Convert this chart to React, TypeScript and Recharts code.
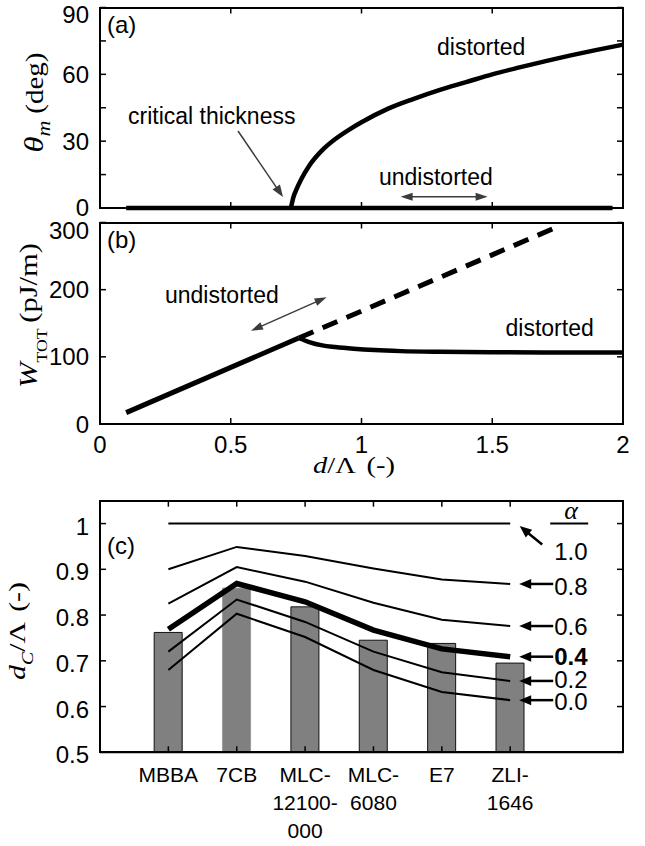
import React from 'react';
import { ComposedChart, Line, Bar, Cell, XAxis, YAxis } from 'recharts';

const SANS = '"Liberation Sans", Arial, Helvetica, sans-serif';
const SERIF = '"Liberation Serif", "Times New Roman", Times, serif';

// (a) tilt angle theta_m versus d/Lambda
const undistortedAX = [0.1, 1.96];
const undistortedAY = [0, 0];
const distortedAX = [0.73, 0.74, 0.75, 0.77, 0.8, 0.85, 0.9, 0.95, 1.0, 1.1, 1.2, 1.3, 1.4, 1.5, 1.6, 1.7, 1.8, 1.9, 2.0];
const distortedAY = [0, 5, 8, 13, 19, 26, 31, 35, 38.5, 44.5, 49, 53, 56.5, 60, 63, 65.8, 68.5, 71, 73.3];

// (b) total energy W_TOT versus d/Lambda
const undistortedBX = [0.1, 0.76];
const undistortedBY = [17, 128];
const undistortedDashX = [0.76, 1.74];
const undistortedDashY = [128, 292];
const distortedBX = [0.76, 0.8, 0.85, 0.9, 0.97, 1.05, 1.15, 1.3, 1.5, 1.75, 2.0];
const distortedBY = [128, 122, 117, 114.5, 112, 110, 108.5, 107.5, 107, 106.5, 106.5];

// (c) critical thickness per material
const materials = ['MBBA', '7CB', 'MLC-12100-000', 'MLC-6080', 'E7', 'ZLI-1646'];
const measured = [0.762, 0.859, 0.818, 0.745, 0.738, 0.695];
const alpha10 = [1, 1, 1, 1, 1, 1];
const alpha08 = [0.9, 0.949, 0.929, 0.902, 0.878, 0.868];
const alpha06 = [0.825, 0.905, 0.873, 0.827, 0.79, 0.776];
const alpha04 = [0.769, 0.869, 0.829, 0.767, 0.726, 0.709];
const alpha02 = [0.72, 0.834, 0.785, 0.72, 0.675, 0.656];
const alpha00 = [0.68, 0.803, 0.752, 0.68, 0.632, 0.614];

const ticksA = [0, 15, 30, 45, 60, 75, 90];
const ticksB = [0, 100, 200, 300];
const ticksX = [0, 0.5, 1, 1.5, 2];
const ticksC = [0.5, 0.6, 0.7, 0.8, 0.9, 1];
const ticksCat = [1, 2, 3, 4, 5, 6];

const domX = [0, 2];
const domA = [0, 90];
const domB = [0, 300];
const domCatX = [0, 7.65];
const domC = [0.5, 1.05];

const pts = (xs: number[], ys: number[]) => xs.map((x, i) => ({ x, y: ys[i] }));

const rowsC = materials.map((m, i) => ({
  x: i + 1,
  name: m,
  bar: measured[i],
  a10: alpha10[i],
  a08: alpha08[i],
  a06: alpha06[i],
  a04: alpha04[i],
  a02: alpha02[i],
  a00: alpha00[i],
}));

// plot boxes (the same numbers drive the chart margins below)
const W = 645;
const PLOT_L = 100;
const PLOT_R = 623;
const boxA = { top: 7.5, bottom: 208 };
const boxB = { top: 222.5, bottom: 424 };
const boxC = { top: 500.7, bottom: 752.3 };

const axisLine = { stroke: '#000', strokeWidth: 2 };
const tickFont = { fontSize: 24, fill: '#000', fontFamily: SANS };

// inward MATLAB-style ticks on all four sides of a plot box
function Ticks({ top, bottom, xd, yd, xt, yt }: any) {
  const sx = (v: number) => PLOT_L + ((v - xd[0]) / (xd[1] - xd[0])) * (PLOT_R - PLOT_L);
  const sy = (v: number) => bottom - ((v - yd[0]) / (yd[1] - yd[0])) * (bottom - top);
  const t = 6;
  return (
    <g>
      {xt.map((v: number) => (
        <g key={`x${v}`}>
          <line x1={sx(v)} y1={bottom} x2={sx(v)} y2={bottom - t} stroke="#000" strokeWidth={1.5} />
          <line x1={sx(v)} y1={top} x2={sx(v)} y2={top + t} stroke="#000" strokeWidth={1.5} />
        </g>
      ))}
      {yt.map((v: number) => (
        <g key={`y${v}`}>
          <line x1={PLOT_L} y1={sy(v)} x2={PLOT_L + t} y2={sy(v)} stroke="#000" strokeWidth={1.5} />
          <line x1={PLOT_R} y1={sy(v)} x2={PLOT_R - t} y2={sy(v)} stroke="#000" strokeWidth={1.5} />
        </g>
      ))}
    </g>
  );
}

// the closed box itself, as a bordered div on top of everything
function BoxDiv({ top, bottom }: { top: number; bottom: number }) {
  return (
    <div
      style={{
        position: 'absolute',
        left: PLOT_L - 1,
        top: top - 1,
        width: PLOT_R - PLOT_L + 2,
        height: bottom - top + 2,
        boxSizing: 'border-box',
        border: '2px solid #000',
        pointerEvents: 'none',
      }}
    />
  );
}

function arrowHead(x: number, y: number, a: number, len: number, half: number) {
  const bx = x - len * Math.cos(a);
  const by = y - len * Math.sin(a);
  const px = -Math.sin(a) * half;
  const py = Math.cos(a) * half;
  return `${x},${y} ${bx + px},${by + py} ${bx - px},${by - py}`;
}

function Arrow({ x1, y1, x2, y2, both = false, color = '#3c3c3c', w = 1.5, len = 11, half = 4 }: any) {
  const a = Math.atan2(y2 - y1, x2 - x1);
  const sx = both ? x1 + len * 0.8 * Math.cos(a) : x1;
  const sy = both ? y1 + len * 0.8 * Math.sin(a) : y1;
  const ex = x2 - len * 0.8 * Math.cos(a);
  const ey = y2 - len * 0.8 * Math.sin(a);
  return (
    <g>
      <line x1={sx} y1={sy} x2={ex} y2={ey} stroke={color} strokeWidth={w} />
      <polygon points={arrowHead(x2, y2, a, len, half)} fill={color} />
      {both && <polygon points={arrowHead(x1, y1, a + Math.PI, len, half)} fill={color} />}
    </g>
  );
}

// y tick label; the top-most label sits a little lower, as in the figure
const yTick = (fmt: (v: number) => string, top: number, topShift: number, shift = 0) => (props: any) => {
  const { x, y, payload } = props;
  const v = payload.value;
  const label = fmt(v);
  if (!label) return <g />;
  const dy = (v === top ? topShift : shift) + 8.5;
  return (
    <text x={x} y={y + dy} textAnchor="end" fontSize={24} fontFamily={SANS} fill="#000">
      {label}
    </text>
  );
};

const CategoryTick = (props: any) => {
  const { x, y, payload } = props;
  const name = materials[Math.round(payload.value) - 1] || '';
  const lines = name.split(/(?<=-)/);
  return (
    <text x={x} y={y} textAnchor="middle" fontSize={21} fontFamily={SANS} fill="#000">
      {lines.map((l: string, i: number) => (
        <tspan key={i} x={x} y={y + 23.5 + i * 28}>
          {l}
        </tspan>
      ))}
    </text>
  );
};

const alphaLabel = (text: string, dy: number, bold = false, diagonal = false) => (p: any) => {
  if (p.index !== materials.length - 1) return null;
  const x = Number(p.x);
  const y = Number(p.y);
  return (
    <g>
      {diagonal ? (
        <>
          <Arrow x1={x + 32} y1={y + 21} x2={x + 9.5} y2={y + 2.5} color="#000" w={2.5} len={12} half={5} />
          <text x={x + 61} y={y - 5} textAnchor="middle" fontSize={26} fontStyle="italic" fontFamily={SERIF} fill="#000">
            α
          </text>
          <line x1={x + 40} y1={y} x2={x + 78} y2={y} stroke="#000" strokeWidth={2} />
          <text x={x + 44} y={y + dy} fontSize={24} fontFamily={SANS} fill="#000">
            {text}
          </text>
        </>
      ) : (
        <>
          <Arrow x1={x + 43} y1={y} x2={x + 9} y2={y} color="#000" w={2.5} len={12} half={5} />
          <text x={x + 44} y={y + dy} fontSize={24} fontWeight={bold ? 'bold' : 'normal'} fontFamily={SANS} fill="#000">
            {text}
          </text>
        </>
      )}
    </g>
  );
};

const fmtA = (v: number) => (v % 30 === 0 ? String(v) : '');
const fmtB = (v: number) => String(v);
const fmtC = (v: number) => (v === 1 ? '1' : v.toFixed(1));

export default function App() {
  return (
    <div style={{ position: 'absolute', left: 0, top: 0, width: W, height: 846, background: '#fff', overflow: 'hidden' }}>
      {/* (a) */}
      <div style={{ position: 'absolute', left: 0, top: 0 }}>
        <ComposedChart width={W} height={230} margin={{ top: boxA.top, right: W - PLOT_R, bottom: 230 - boxA.bottom, left: 0 }}>
          <XAxis xAxisId="x" type="number" dataKey="x" domain={domX} ticks={ticksX} interval={0} height={0.01}
            tick={false} tickLine={false} axisLine={axisLine} />
          <YAxis yAxisId="y" type="number" domain={domA} ticks={ticksA} interval={0} width={PLOT_L}
            tickLine={false} tickMargin={5} tick={yTick(fmtA, 90, 7)} axisLine={axisLine} />
          <Line xAxisId="x" yAxisId="y" data={pts(undistortedAX, undistortedAY)} dataKey="y" type="linear"
            stroke="#000" strokeWidth={4.5} dot={false} isAnimationActive={false} />
          <Line xAxisId="x" yAxisId="y" data={pts(distortedAX, distortedAY)} dataKey="y" type="monotone"
            stroke="#000" strokeWidth={4.5} dot={false} isAnimationActive={false} />
        </ComposedChart>
      </div>

      {/* (b) */}
      <div style={{ position: 'absolute', left: 0, top: 200 }}>
        <ComposedChart width={W} height={290} margin={{ top: boxB.top - 200, right: W - PLOT_R, bottom: 490 - boxB.bottom - 30, left: 0 }}>
          <XAxis xAxisId="x" type="number" dataKey="x" domain={domX} ticks={ticksX} interval={0} height={30}
            tick={tickFont} tickLine={false} tickMargin={6} axisLine={axisLine}
            tickFormatter={(v: number) => String(v)} />
          <YAxis yAxisId="y" type="number" domain={domB} ticks={ticksB} interval={0} width={PLOT_L}
            tickLine={false} tickMargin={5} tick={yTick(fmtB, 300, 8)} axisLine={axisLine} />
          <Line xAxisId="x" yAxisId="y" data={pts(undistortedDashX, undistortedDashY)} dataKey="y" type="linear"
            stroke="#000" strokeWidth={5} strokeDasharray="16 10" dot={false} isAnimationActive={false} />
          <Line xAxisId="x" yAxisId="y" data={pts(undistortedBX, undistortedBY)} dataKey="y" type="linear"
            stroke="#000" strokeWidth={5} dot={false} isAnimationActive={false} />
          <Line xAxisId="x" yAxisId="y" data={pts(distortedBX, distortedBY)} dataKey="y" type="monotone"
            stroke="#000" strokeWidth={4.5} dot={false} isAnimationActive={false} />
        </ComposedChart>
      </div>

      {/* (c) */}
      <div style={{ position: 'absolute', left: 0, top: 480 }}>
        <ComposedChart width={W} height={366} data={rowsC}
          margin={{ top: boxC.top - 480, right: W - PLOT_R, bottom: 846 - boxC.bottom - 90, left: 0 }}>
          <XAxis xAxisId="x" type="number" dataKey="x" domain={domCatX} ticks={ticksCat} interval={0}
            height={90} tick={<CategoryTick />} tickLine={false} tickMargin={0} axisLine={axisLine} />
          <YAxis yAxisId="y" type="number" domain={domC} ticks={ticksC} interval={0} width={PLOT_L}
            tickLine={false} tickMargin={5} tick={yTick(fmtC, 1, 2.5, 2.5)} axisLine={axisLine} />
          <Bar xAxisId="x" yAxisId="y" dataKey="bar" barSize={28} fill="#808080" stroke="#000" strokeWidth={1}
            isAnimationActive={false}>
            {rowsC.map((r, i) => (
              <Cell key={r.name} stroke={i === 1 ? '#9a9a9a' : '#111'} />
            ))}
          </Bar>
          <Line xAxisId="x" yAxisId="y" dataKey="a10" type="linear" stroke="#000" strokeWidth={2} dot={false}
            isAnimationActive={false} label={alphaLabel('1.0', 36.5, false, true)} />
          <Line xAxisId="x" yAxisId="y" dataKey="a08" type="linear" stroke="#000" strokeWidth={2} dot={false}
            isAnimationActive={false} label={alphaLabel('0.8', 11)} />
          <Line xAxisId="x" yAxisId="y" dataKey="a06" type="linear" stroke="#000" strokeWidth={2} dot={false}
            isAnimationActive={false} label={alphaLabel('0.6', 9.3)} />
          <Line xAxisId="x" yAxisId="y" dataKey="a04" type="linear" stroke="#000" strokeWidth={5.5} dot={false}
            isAnimationActive={false} label={alphaLabel('0.4', 8.3, true)} />
          <Line xAxisId="x" yAxisId="y" dataKey="a02" type="linear" stroke="#000" strokeWidth={2} dot={false}
            isAnimationActive={false} label={alphaLabel('0.2', 7.3)} />
          <Line xAxisId="x" yAxisId="y" dataKey="a00" type="linear" stroke="#000" strokeWidth={2} dot={false}
            isAnimationActive={false} label={alphaLabel('0.0', 10)} />
        </ComposedChart>
      </div>

      {/* ticks, annotations and axis titles */}
      <svg width={W} height={846} viewBox={`0 0 ${W} 846`} style={{ position: 'absolute', left: 0, top: 0, pointerEvents: 'none' }}>
        <Ticks {...boxA} xd={domX} yd={domA} xt={ticksX} yt={ticksA} />
        <Ticks {...boxB} xd={domX} yd={domB} xt={ticksX} yt={ticksB} />
        <Ticks {...boxC} xd={domCatX} yd={domC} xt={ticksCat} yt={ticksC} />

        <g fontFamily={SANS} fill="#000">
          <text x={107} y={33} fontSize={24}>(a)</text>
          <text x={107} y={248} fontSize={24}>(b)</text>
          <text x={107} y={554} fontSize={24}>(c)</text>
          <text x={128} y={124} fontSize={23}>critical thickness</text>
          <text x={437} y={55} fontSize={23}>distorted</text>
          <text x={379} y={185} fontSize={23}>undistorted</text>
          <text x={165} y={302.5} fontSize={23}>undistorted</text>
          <text x={505.5} y={336} fontSize={23}>distorted</text>
        </g>
        <Arrow x1={238} y1={131} x2={283} y2={197} len={12} half={4.5} />
        <Arrow x1={400.6} y1={196.7} x2={487.6} y2={196.7} both len={12} half={4} />
        <Arrow x1={251} y1={330.7} x2={326.6} y2={297.3} both len={12} half={4} />

        <g fontFamily={SERIF} fill="#000">
          <text transform="translate(43,102.5) rotate(-90)" textAnchor="middle" textLength={100}
            lengthAdjust="spacingAndGlyphs">
            <tspan fontStyle="italic" fontSize={28}>θ</tspan>
            <tspan fontStyle="italic" fontSize={19} dy={7}>m</tspan>
            <tspan fontSize={25} dy={-7} dx={6}>(deg)</tspan>
          </text>
          <text transform="translate(37,315.5) rotate(-90)" textAnchor="middle" textLength={145}
            lengthAdjust="spacingAndGlyphs">
            <tspan fontStyle="italic" fontSize={26}>W</tspan>
            <tspan fontSize={15} dy={10}>TOT</tspan>
            <tspan fontSize={26} dy={-10} dx={5}>(pJ/m)</tspan>
          </text>
          <text transform="translate(25,631) rotate(-90)" textAnchor="middle" textLength={98}
            lengthAdjust="spacingAndGlyphs">
            <tspan fontStyle="italic" fontSize={24}>d</tspan>
            <tspan fontStyle="italic" fontSize={16} dy={8}>C</tspan>
            <tspan fontSize={24} dy={-8}>/Λ</tspan>
            <tspan fontSize={24} dx={8}>(-)</tspan>
          </text>
          <text x={354} y={473} textAnchor="middle" textLength={82} lengthAdjust="spacingAndGlyphs">
            <tspan fontStyle="italic" fontSize={24}>d</tspan>
            <tspan fontSize={24}>/Λ</tspan>
            <tspan fontSize={24} dx={9}>(-)</tspan>
          </text>
        </g>
      </svg>

      <BoxDiv {...boxA} />
      <BoxDiv {...boxB} />
      <BoxDiv {...boxC} />
    </div>
  );
}
